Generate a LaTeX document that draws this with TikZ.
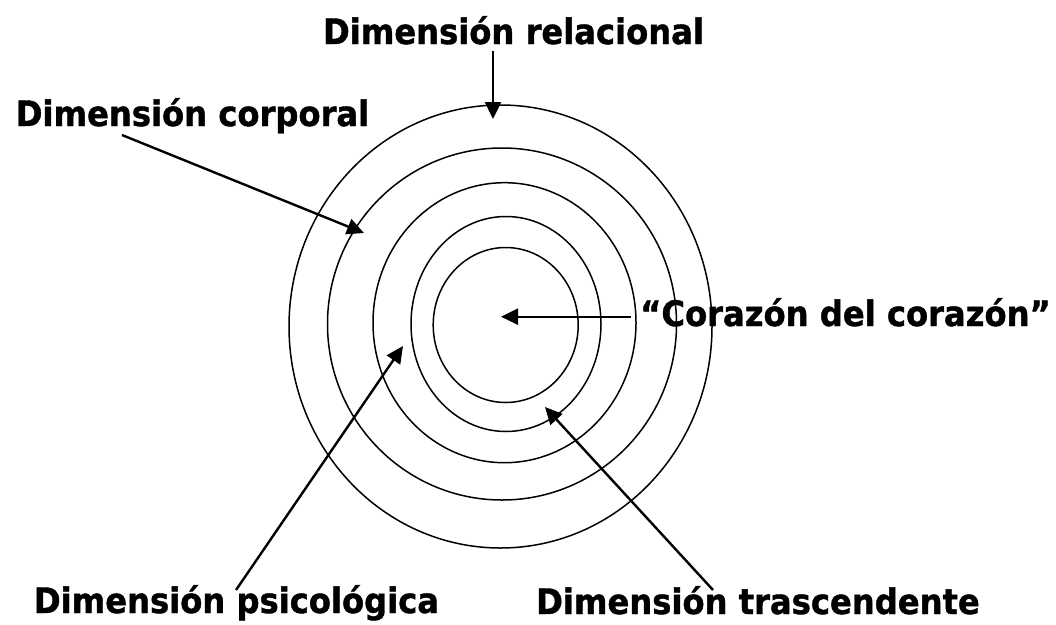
\documentclass[tikz,border=0pt]{standalone}
\usepackage{fontspec}
\setmainfont{DejaVu Sans}[FakeStretch=0.92,BoldFeatures={FakeBold=1.2}]
\usetikzlibrary{arrows.meta,shapes.geometric}
\begin{document}
\begin{tikzpicture}[x=1pt,y=-1pt,
  ring/.style={draw,ellipse,line width=1.5pt,inner sep=0pt,outer sep=0pt},
  lbl/.style={font=\bfseries\fontsize{35}{40}\selectfont,inner sep=0pt,anchor=base},
  pointer/.style={line width=2.4pt,-{Triangle[length=17pt,width=16pt]}}]
\useasboundingbox (0,0) rectangle (1056,624);
% rings
\node[ring,minimum width=423pt,minimum height=443pt] (r1) at (500.5,326.5) {};
\node[ring,minimum width=349pt,minimum height=352pt] (r2) at (502,324) {};
\node[ring,minimum width=263pt,minimum height=280pt] (r3) at (504.5,322.7) {};
\node[ring,minimum width=190pt,minimum height=215pt] (r4) at (506,324) {};
\node[ring,minimum width=145pt,minimum height=155pt] (r5) at (505.7,325) {};
% labels
\node[lbl] (rel) at (513.5,44) {Dimensión relacional};
\node[lbl] (cor) at (192.5,126) {Dimensión corporal};
\node[lbl] (cc) at (845.5,326) {“Corazón del corazón”};
\node[lbl] (psi) at (236.5,613) {Dimensión psicológica};
\node[lbl] (tra) at (758,614) {Dimensión trascendente};
% connector ends
\coordinate (relS) at (493,51);   \coordinate (relT) at (493,119);
\coordinate (corS) at (122,135);  \coordinate (corT) at (364,233);
\coordinate (ccS) at (631,316.7); \coordinate (ccT) at (501,316.7);
\coordinate (psiS) at (236,590);  \coordinate (psiT) at (403,346);
\coordinate (traS) at (713,590);  \coordinate (traT) at (545,407);
% arrows
\draw[pointer] (relS) -- (relT);
\draw[pointer] (corS) -- (corT);
\draw[pointer] (ccS) -- (ccT);
\draw[pointer] (psiS) -- (psiT);
\draw[pointer] (traS) -- (traT);
\end{tikzpicture}
\end{document}
